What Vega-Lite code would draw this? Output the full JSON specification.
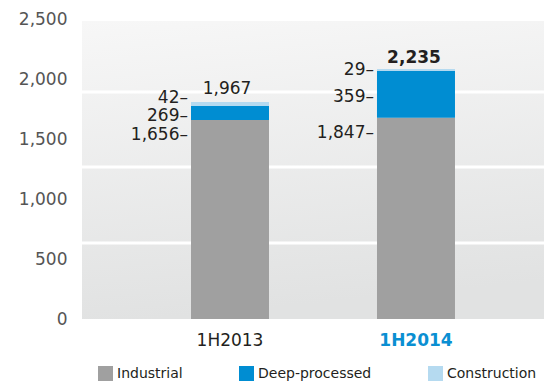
{
  "$schema": "https://vega.github.io/schema/vega-lite/v6.json",
  "width": 462,
  "height": 300,
  "autosize": {"type": "none"},
  "padding": {"left": 82, "top": 19, "right": 0, "bottom": 63},
  "config": {"view": {"stroke": null}, "font": "DejaVu Sans"},
  "datasets": {
    "production": [
      {"period": "1H2013", "type": "Industrial", "order": 1, "value": 1658, "label": "1,656", "total": "1,967"},
      {"period": "1H2013", "type": "Deep-processed", "order": 2, "value": 117, "label": "269", "total": "1,967"},
      {"period": "1H2013", "type": "Construction", "order": 3, "value": 33, "label": "42", "total": "1,967"},
      {"period": "1H2014", "type": "Industrial", "order": 1, "value": 1678, "label": "1,847", "total": "2,235"},
      {"period": "1H2014", "type": "Deep-processed", "order": 2, "value": 391, "label": "359", "total": "2,235"},
      {"period": "1H2014", "type": "Construction", "order": 3, "value": 14, "label": "29", "total": "2,235"}
    ],
    "grid": [{"g": 633}, {"g": 1267}, {"g": 1892}]
  },
  "data": {"name": "production"},
  "layer": [
    {
      "data": {"values": [{"bg": 1}]},
      "mark": {
        "type": "rect",
        "color": {
          "gradient": "linear", "x1": 0, "y1": 0, "x2": 0.15, "y2": 1,
          "stops": [{"offset": 0, "color": "#f7f7f7"}, {"offset": 1, "color": "#e1e2e2"}]
        }
      },
      "encoding": {
        "y": {"datum": 0, "type": "quantitative", "title": null},
        "y2": {"datum": 2483}
      }
    },
    {
      "data": {"name": "grid"},
      "mark": {"type": "rule", "color": "#ffffff", "strokeWidth": 3},
      "encoding": {"y": {"field": "g", "type": "quantitative", "title": null}}
    },
    {
      "transform": [{"stack": "value", "groupby": ["period"], "sort": [{"field": "order", "order": "ascending"}], "as": ["v0", "v1"]}],
      "mark": {"type": "bar", "size": 78},
      "encoding": {
        "x": {
          "field": "period", "type": "nominal", "title": null,
          "scale": {"type": "band", "paddingInner": 0, "paddingOuter": 0.242, "align": 0.611},
          "axis": {
            "domain": false, "ticks": false, "labelAngle": 0, "labelPadding": 13,
            "labelFontSize": 17, "labelFont": "DejaVu Sans",
            "labelColor": {"expr": "datum.value === '1H2014' ? '#0a8fd2' : '#231f20'"},
            "labelFontWeight": {"expr": "datum.value === '1H2014' ? 'bold' : 'normal'"}
          }
        },
        "y": {
          "field": "v1", "type": "quantitative", "title": null,
          "scale": {"domain": [0, 2500], "nice": false, "zero": true},
          "axis": {
            "values": [0, 500, 1000, 1500, 2000, 2500], "format": ",d",
            "domain": false, "ticks": false, "grid": false, "labelPadding": 15,
            "labelFontSize": 17, "labelFont": "DejaVu Sans", "labelColor": "#555555", "labelOverlap": false
          }
        },
        "y2": {"field": "v0"},
        "color": {
          "field": "type", "type": "nominal",
          "scale": {"domain": ["Industrial", "Deep-processed", "Construction"], "range": ["#a0a0a0", "#008dd2", "#b5daf0"]},
          "legend": {
            "orient": "none", "legendX": 16, "legendY": 347, "direction": "horizontal",
            "title": null, "symbolType": "square", "symbolSize": 225, "symbolStrokeWidth": 0,
            "labelFontSize": 14, "labelFont": "DejaVu Sans", "labelColor": "#231f20",
            "labelOffset": 4, "columnPadding": 56, "padding": 0
          }
        }
      }
    },
    {
      "transform": [{"filter": "datum.type === 'Industrial'"}],
      "mark": {"type": "text", "align": "right", "baseline": "middle", "dx": -42, "dy": 15, "fontSize": 17, "color": "#231f20", "text": {"expr": "datum.label + '–'"}},
      "encoding": {
        "x": {"field": "period", "type": "nominal"},
        "y": {"field": "value", "type": "quantitative", "title": null}
      }
    },
    {
      "transform": [
        {"stack": "value", "groupby": ["period"], "sort": [{"field": "order", "order": "ascending"}], "as": ["v0", "v1"]},
        {"filter": "datum.type === 'Deep-processed'"},
        {"fold": ["v0", "v1"], "as": ["edge", "pos"]},
        {"aggregate": [{"op": "mean", "field": "pos", "as": "mid"}], "groupby": ["period", "label"]}
      ],
      "mark": {"type": "text", "align": "right", "baseline": "middle", "dx": -42, "dy": 3, "fontSize": 17, "color": "#231f20", "text": {"expr": "datum.label + '–'"}},
      "encoding": {
        "x": {"field": "period", "type": "nominal"},
        "y": {"field": "mid", "type": "quantitative", "title": null}
      }
    },
    {
      "transform": [
        {"stack": "value", "groupby": ["period"], "sort": [{"field": "order", "order": "ascending"}], "as": ["v0", "v1"]},
        {"filter": "datum.type === 'Construction' && datum.period === '1H2013'"}
      ],
      "mark": {"type": "text", "align": "right", "baseline": "middle", "dx": -42, "dy": -4, "fontSize": 17, "color": "#231f20", "text": {"expr": "datum.label + '–'"}},
      "encoding": {
        "x": {"field": "period", "type": "nominal"},
        "y": {"field": "v1", "type": "quantitative", "title": null}
      }
    },
    {
      "transform": [
        {"stack": "value", "groupby": ["period"], "sort": [{"field": "order", "order": "ascending"}], "as": ["v0", "v1"]},
        {"filter": "datum.type === 'Construction' && datum.period === '1H2014'"}
      ],
      "mark": {"type": "text", "align": "right", "baseline": "middle", "dx": -42, "dy": 1, "fontSize": 17, "color": "#231f20", "text": {"expr": "datum.label + '–'"}},
      "encoding": {
        "x": {"field": "period", "type": "nominal"},
        "y": {"field": "v1", "type": "quantitative", "title": null}
      }
    },
    {
      "transform": [
        {"aggregate": [{"op": "sum", "field": "value", "as": "top"}], "groupby": ["period", "total"]},
        {"filter": "datum.period === '1H2013'"}
      ],
      "mark": {"type": "text", "align": "center", "baseline": "alphabetic", "dx": -3, "dy": -8, "fontSize": 17, "color": "#231f20"},
      "encoding": {
        "x": {"field": "period", "type": "nominal"},
        "y": {"field": "top", "type": "quantitative", "title": null},
        "text": {"field": "total", "type": "nominal"}
      }
    },
    {
      "transform": [
        {"aggregate": [{"op": "sum", "field": "value", "as": "top"}], "groupby": ["period", "total"]},
        {"filter": "datum.period === '1H2014'"}
      ],
      "mark": {"type": "text", "align": "center", "baseline": "alphabetic", "dx": -2, "dy": -6, "fontSize": 17, "fontWeight": "bold", "color": "#231f20"},
      "encoding": {
        "x": {"field": "period", "type": "nominal"},
        "y": {"field": "top", "type": "quantitative", "title": null},
        "text": {"field": "total", "type": "nominal"}
      }
    }
  ]
}
